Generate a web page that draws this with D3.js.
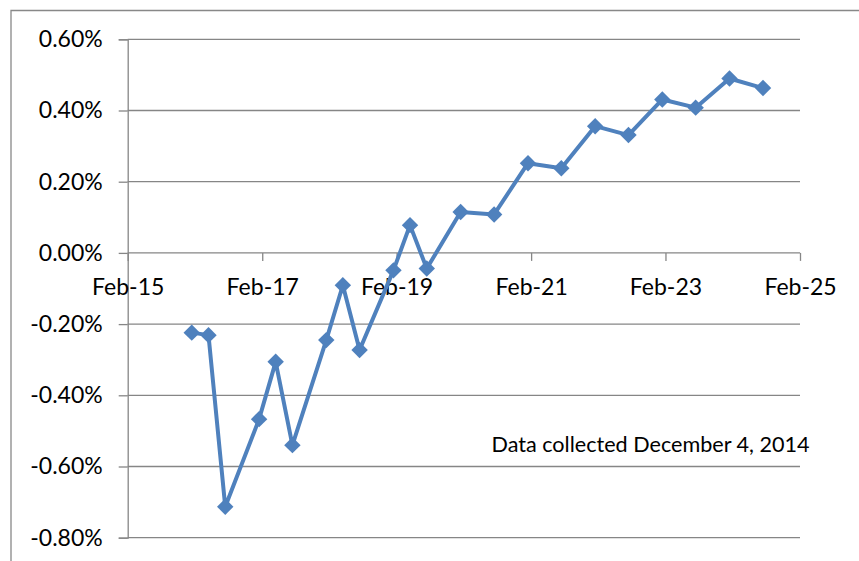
<!DOCTYPE html>
<html>
<head>
<meta charset="utf-8">
<script src="https://cdn.jsdelivr.net/npm/d3@7"></script>
<style>
  html, body { margin: 0; padding: 0; background: #fff; }
  text { font-family: Lato, "Noto Sans", sans-serif; fill: #000; }
</style>
</head>
<body>
<svg id="chart" width="859" height="561"></svg>
<script>
// ---- data ----
const maturities = ["2016-01-15","2016-04-15","2016-07-15","2017-01-15","2017-04-15","2017-07-15",
  "2018-01-15","2018-04-15","2018-07-15","2019-01-15","2019-04-15","2019-07-15",
  "2020-01-15","2020-07-15","2021-01-15","2021-07-15","2022-01-15","2022-07-15",
  "2023-01-15","2023-07-15","2024-01-15","2024-07-15"];
const yields = [-0.224,-0.231,-0.713,-0.467,-0.306,-0.540,
  -0.245,-0.091,-0.273,-0.049,0.078,-0.044,
  0.115,0.108,0.252,0.238,0.356,0.331,
  0.431,0.408,0.490,0.463];
const xTickDates = ["2015-02-01","2017-02-01","2019-02-01","2021-02-01","2023-02-01","2025-02-01"];
const yTicks = [0.6,0.4,0.2,0,-0.2,-0.4,-0.6,-0.8];
const yTickLabels = ["0.60%","0.40%","0.20%","0.00%","-0.20%","-0.40%","-0.60%","-0.80%"];
const note = "Data collected December 4, 2014";

(function(){
const parse = d3.utcParse("%Y-%m-%d");
const data = maturities.map((m,i)=>({date: parse(m), v: yields[i]}));

const svg = d3.select("#chart");
const W = 859, H = 561;
const pL = 127.7, pR = 800, pT = 39.3, pB = 537.7;

// outer chart border (cut off at right/bottom like the reference)
svg.append("path")
  .attr("d", `M11,${H+2} L11,10.5 L${W+2},10.5`)
  .attr("fill","none").attr("stroke","#888").attr("stroke-width",1.3);

const x = d3.scaleUtc().domain([parse(xTickDates[0]), parse(xTickDates[xTickDates.length-1])]).range([pL, pR]);
const y = d3.scaleLinear().domain([-0.8, 0.6]).range([pB, pT]);

const gridColor = "#868686";

// y axis with gridlines
const yAxis = svg.append("g").attr("transform",`translate(${pL},0)`)
  .call(d3.axisLeft(y).tickValues(yTicks).tickSize(9).tickPadding(16)
    .tickFormat((d,i) => yTickLabels[i]));
yAxis.select(".domain").attr("stroke",gridColor).attr("stroke-width",1.3);
yAxis.selectAll(".tick line").attr("stroke",gridColor).attr("stroke-width",1.3);
yAxis.selectAll(".tick text").attr("font-size",23).attr("font-family","Lato").attr("fill","#000");
svg.append("g").selectAll("line").data(yTicks).join("line")
  .attr("x1",pL).attr("x2",pR)
  .attr("y1",d=>y(d)).attr("y2",d=>y(d))
  .attr("stroke",gridColor).attr("stroke-width",1.3);

// x axis at zero
const xAxis = svg.append("g").attr("transform",`translate(0,${y(0)})`)
  .call(d3.axisBottom(x).tickValues(xTickDates.map(parse)).tickSize(8).tickPadding(18)
    .tickFormat(d3.utcFormat("%b-%y")));
xAxis.select(".domain").remove();
xAxis.selectAll(".tick line").attr("stroke",gridColor).attr("stroke-width",1.3);
xAxis.selectAll(".tick text").attr("font-size",23).attr("font-family","Lato").attr("fill","#000");

// series
const color = "#4F81BD";
svg.append("path").datum(data)
  .attr("d", d3.line().x(d=>x(d.date)).y(d=>y(d.v)))
  .attr("fill","none").attr("stroke",color).attr("stroke-width",4)
  .attr("stroke-linejoin","round");
const sym = d3.symbol().type(d3.symbolSquare).size(135);
svg.append("g").selectAll("path").data(data).join("path")
  .attr("d", sym)
  .attr("transform", d=>`translate(${x(d.date)},${y(d.v)}) rotate(45)`)
  .attr("fill",color);

// annotation
svg.append("text").attr("x",491.5).attr("y",451.5)
  .attr("font-size",21.6).text(note);
})();
</script>
</body>
</html>
